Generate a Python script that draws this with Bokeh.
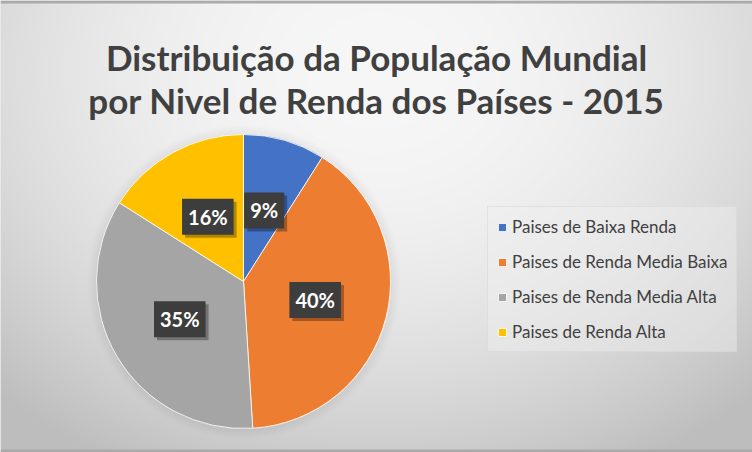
import numpy as np
from math import pi, cos, sin
from bokeh.plotting import figure
from bokeh.models import Range1d, ColumnDataSource, Legend, LegendItem
from bokeh.core.properties import value
from bokeh.embed import file_html
from bokeh.resources import INLINE

# ---- data ----
categories = ["Paises de Baixa Renda", "Paises de Renda Media Baixa",
              "Paises de Renda Media Alta", "Paises de Renda Alta"]
shares = [9, 40, 35, 16]
colors = ["#4472C4", "#ED7D31", "#A5A5A5", "#FFC000"]
title_lines = ["Distribuição da População Mundial",
               "por Nivel de Renda dos Países - 2015"]

W, H = 752, 452
CX, CY, R = 243, H - 281, 147

p = figure(width=W, height=H, output_backend="svg", toolbar_location=None,
           x_range=Range1d(0, W), y_range=Range1d(0, H), min_border=0)
p.axis.visible = False
p.grid.visible = False
p.outline_line_color = None
p.background_fill_color = "#e0e0e0"
p.border_fill_color = "#e0e0e0"

# ---- background gradient (style only) ----
yy, xx = np.mgrid[0:H, 0:W]  # row 0 = top
d2 = ((xx - 376) / 480.0) ** 2 + ((yy - 70) / 390.0) ** 2
v = 247 - 44 * np.clip(d2, 0, 1.3)
# soft shadow around the pie
rr = np.sqrt((xx - CX) ** 2 + (yy - (H - CY)) ** 2)
sh = np.clip(1 - (rr - R) / 10.0, 0, 1) * (rr > R)
v = v - 14 * sh
# frame strips top / bottom
v[0:3, :] = 170
v[H - 3:H, :] = 170
v = np.clip(v, 0, 255).astype(np.uint32)
img = (255 << 24) | (v << 16) | (v << 8) | v
img = np.flipud(img).astype(np.uint32)
p.image_rgba(image=[img], x=0, y=0, dw=W, dh=H)

# ---- pie ----
tot = float(sum(shares))
fr = np.array(shares) / tot
cum_end = np.cumsum(fr)
cum_start = cum_end - fr
start_angle = pi / 2 - cum_end * 2 * pi
end_angle = pi / 2 - cum_start * 2 * pi
mid = pi / 2 - (cum_start + fr / 2) * 2 * pi
LR = 74
src = ColumnDataSource(dict(
    cat=categories, color=colors, start=start_angle, end=end_angle,
    lx=CX + LR * np.cos(mid), ly=CY + LR * np.sin(mid),
    lab=[f"{s}%" for s in shares]))

wr = p.wedge(x=CX, y=CY, radius=R, start_angle="start", end_angle="end",
             fill_color="color", line_color="white", line_width=0.8,
             source=src)

# label boxes: shadow, then box+text
p.text(x="lx", y="ly", text="lab", source=src, text_align="center",
       text_baseline="middle", text_font=value("Lato"), text_font_style="bold",
       text_font_size="20px", text_color=None, x_offset=3, y_offset=3,
       background_fill_color="black", background_fill_alpha=0.3, padding=6)
p.text(x="lx", y="ly", text="lab", source=src, text_align="center",
       text_baseline="middle", text_font=value("Lato"), text_font_style="bold",
       text_font_size="20px", text_color="white",
       background_fill_color="#3d3d3d", padding=6)

# ---- title ----
tsrc = ColumnDataSource(dict(x=[W / 2, W / 2], y=[H - 56, H - 99], t=title_lines))
p.text(x="x", y="y", text="t", source=tsrc, text_align="center",
       text_baseline="alphabetic", text_font=value("Lato"),
       text_font_style="bold", text_font_size="35px", text_color="#404040")

# ---- legend ----
items = [LegendItem(label=c, renderers=[wr], index=i) for i, c in enumerate(categories)]
leg = Legend(items=items, location=(487, 100), orientation="vertical",
             glyph_width=10, glyph_height=10, label_height=21, spacing=14,
             padding=9, margin=0, label_standoff=5,
             label_text_font="Lato", label_text_font_size="17px",
             label_text_color="#404040",
             background_fill_color="#f0f0f0", background_fill_alpha=0.45,
             border_line_color="#d4d4d4", border_line_width=1)
p.add_layout(leg)

open("out.html", "w").write(file_html(p, INLINE))
